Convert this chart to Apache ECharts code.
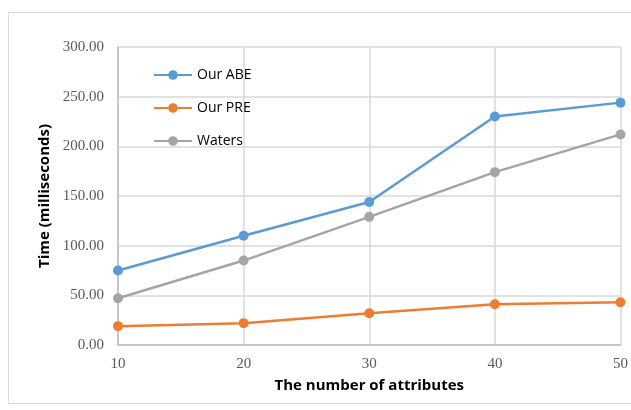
<!DOCTYPE html>
<html><head><meta charset="utf-8">
<script src="https://cdn.jsdelivr.net/npm/echarts@6/dist/echarts.min.js"></script>
<style>
html,body{margin:0;padding:0;background:#fff;}
#frame{position:absolute;left:8px;top:12px;width:640px;height:392px;border:1px solid #d9d9d9;box-sizing:border-box;}
#chart{position:absolute;left:0;top:0;width:631px;height:410px;}
</style></head>
<body>
<div id="frame"></div>
<div id="chart"></div>
<script>
const attributes = [10, 20, 30, 40, 50];
const ourABE = [75, 110, 144, 230, 244];
const ourPRE = [19, 22, 32, 41, 43];
const waters = [47, 85, 129, 174, 212];
const seriesNames = ['Our ABE', 'Our PRE', 'Waters'];
const colors = ['#5B9BD5', '#ED7D31', '#A5A5A5'];

const chart = echarts.init(document.getElementById('chart'));
function mk(name, vals, color){
  return {
    name: name, type: 'line', data: attributes.map((a,i)=>[a, vals[i]]),
    symbol: 'circle', symbolSize: 10,
    itemStyle: {color: color}, lineStyle: {color: color, width: 2.5},
    animation: false
  };
}
chart.setOption({
  animation: false,
  grid: {left: 118, right: 10, top: 47, bottom: 65},
  legend: {
    left: 148, top: 60, orient: 'vertical', itemGap: 13,
    itemWidth: 38, itemHeight: 12,
    textStyle: {fontFamily: 'Open Sans', fontSize: 14, color: '#000', lineHeight: 20},
    data: seriesNames
  },
  xAxis: {
    type: 'value', min: 10, max: 50, interval: 10,
    name: 'The number of attributes', nameLocation: 'middle', nameGap: 33,
    nameTextStyle: {fontFamily: 'Open Sans', fontWeight: 'bold', fontSize: 15, color: '#000'},
    axisLine: {show: true, lineStyle: {color: '#bfbfbf', width: 1.5}},
    axisTick: {show: false},
    splitLine: {show: true, lineStyle: {color: '#d9d9d9', width: 1.5}},
    axisLabel: {fontFamily: 'Liberation Serif', fontSize: 15, color: '#595959', margin: 12}
  },
  yAxis: {
    type: 'value', min: 0, max: 300, interval: 50,
    name: 'Time (milliseconds)', nameLocation: 'middle', nameGap: 66,
    nameTextStyle: {fontFamily: 'Open Sans', fontWeight: 'bold', fontSize: 15, color: '#000'},
    axisLine: {show: true, lineStyle: {color: '#bfbfbf', width: 1.5}},
    axisTick: {show: false},
    splitLine: {show: true, lineStyle: {color: '#d9d9d9', width: 1.5}},
    axisLabel: {fontFamily: 'Liberation Serif', fontSize: 15, color: '#595959', margin: 14,
      formatter: v => v.toFixed(2)}
  },
  series: [mk(seriesNames[0], ourABE, colors[0]), mk(seriesNames[1], ourPRE, colors[1]), mk(seriesNames[2], waters, colors[2])]
});
</script>
</body></html>
